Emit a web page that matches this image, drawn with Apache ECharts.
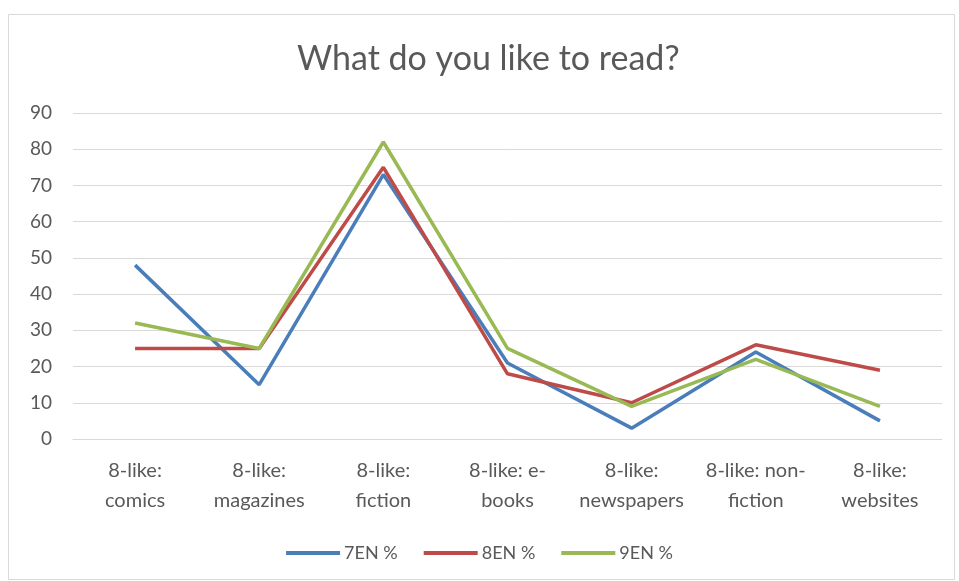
<!DOCTYPE html>
<html>
<head>
<meta charset="utf-8">
<script src="https://cdn.jsdelivr.net/npm/echarts@6/dist/echarts.min.js"></script>
<style>
html,body{margin:0;padding:0;background:#fff;}
#c{width:959px;height:581px;}
</style>
</head>
<body>
<div id="c"></div>
<script>
const categories = ['8-like:\ncomics','8-like:\nmagazines','8-like:\nfiction','8-like: e-\nbooks','8-like:\nnewspapers','8-like: non-\nfiction','8-like:\nwebsites'];
const seriesNames = ['7EN %','8EN %','9EN %'];
const en7 = [48, 15, 73, 21, 3, 24, 5];
const en8 = [25, 25, 75, 18, 10, 26, 19];
const en9 = [32, 25, 82, 25, 9, 22, 9];
const colors = ['#4a7ebb','#be4b48','#98b954'];

const chart = echarts.init(document.getElementById('c'));
const values = [en7, en8, en9];
chart.setOption({
  animation:false,
  backgroundColor:'#fff',
  title:{
    text:'What do you like to read?',
    left:292, top:37,
    textStyle:{fontFamily:'Lato', fontWeight:'normal', fontSize:34, color:'#595959'}
  },
  graphic:[{type:'rect', shape:{x:8.5,y:14.5,width:946,height:565}, style:{fill:'none', stroke:'#d9d9d9', lineWidth:1}, silent:true}],
  legend:{
    top:539, left:'center', itemWidth:54, itemHeight:4, itemGap:26,
    icon:'rect',
    textStyle:{fontFamily:'Lato', fontSize:18, color:'#595959', padding:[0,0,0,-1]},
    data:seriesNames
  },
  grid:{left:73, right:17, top:113, bottom:142},
  xAxis:{
    type:'category', data:categories, boundaryGap:true,
    axisLine:{show:true, lineStyle:{color:'#d9d9d9', width:1}},
    axisTick:{show:false},
    axisLabel:{fontFamily:'Lato', fontSize:20, color:'#595959', lineHeight:30, margin:17, interval:0}
  },
  yAxis:{
    type:'value', min:0, max:90, interval:10,
    axisLine:{show:false}, axisTick:{show:false},
    splitLine:{lineStyle:{color:'#d9d9d9', width:1}},
    axisLabel:{fontFamily:'Lato', fontSize:19, color:'#595959', margin:21}
  },
  series: seriesNames.map((n,i)=>({
    name:n, type:'line', data:values[i], symbol:'none',
    lineStyle:{color:colors[i], width:3.5}, itemStyle:{color:colors[i]}
  }))
});
</script>
</body>
</html>
